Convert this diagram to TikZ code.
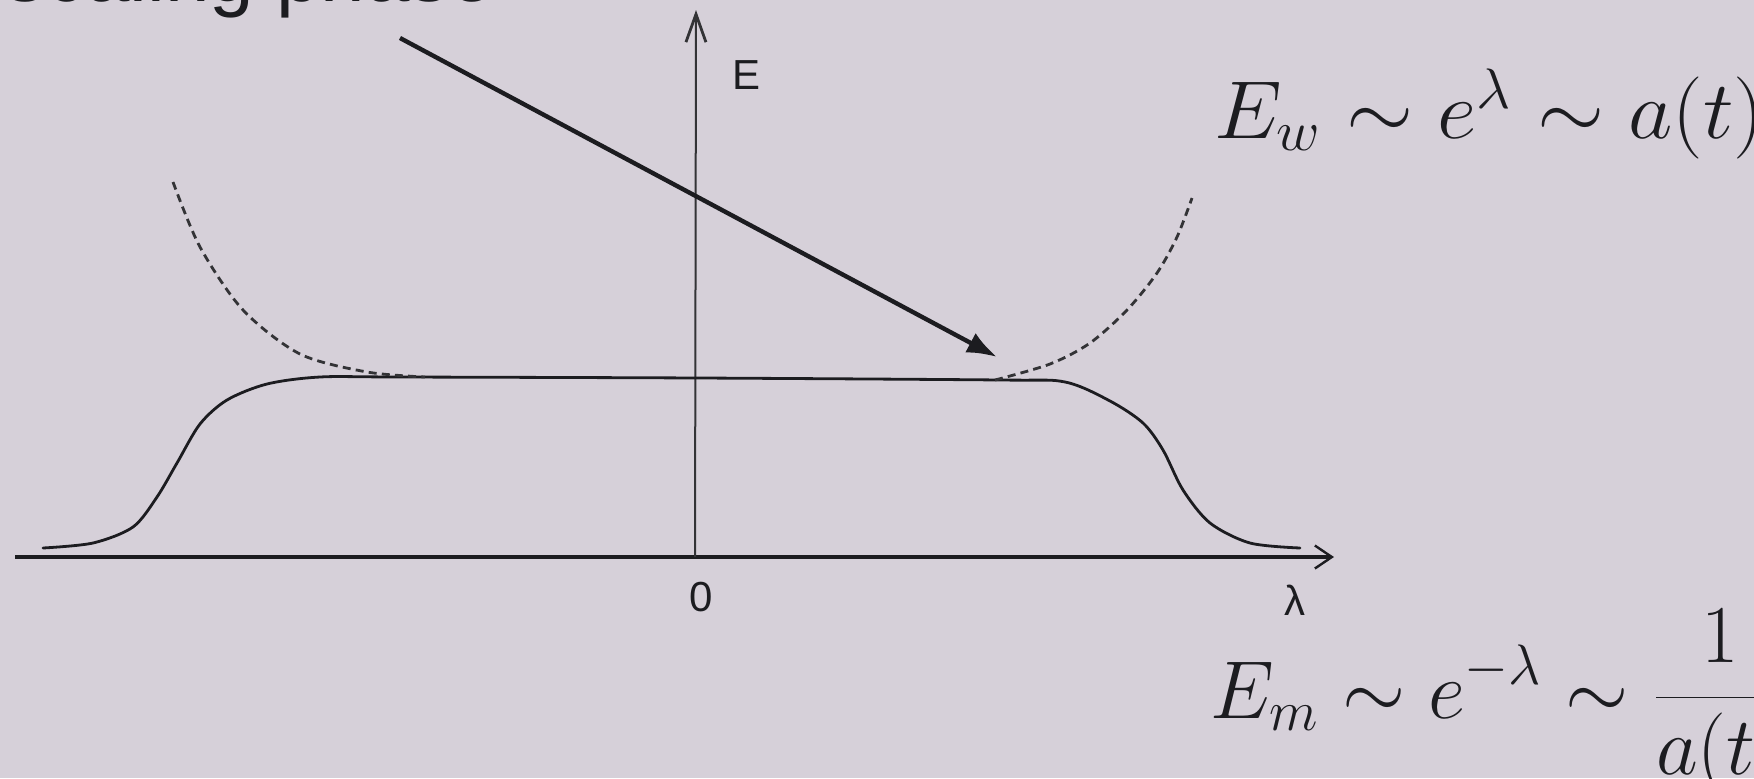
\documentclass[tikz,border=0pt]{standalone}
\usepackage{graphicx}
\usepackage{fontspec}
\newfontfamily\labfont{Liberation Sans}
\usetikzlibrary{arrows.meta}
\definecolor{bg}{RGB}{214,208,217}
\definecolor{ink}{RGB}{28,28,32}
\newcommand{\bigeq}[2]{\scalebox{#1}[1.98]{\huge #2}}
\begin{document}
\begin{tikzpicture}[x=0.5pt,y=-0.5pt,
  eqn/.style={inner sep=0pt, text=ink},
  slidetext/.style={inner sep=0pt, text=ink, font=\labfont\fontsize{40}{48}\selectfont},
  axlabel/.style={inner sep=0pt, text=ink, font=\labfont\fontsize{21}{25}\selectfont},
  haxis/.style={draw=ink, line width=2pt, -{Straight Barb[length=8.5pt,width=11.5pt,line width=1.2pt]}},
  vaxis/.style={draw=ink!90, line width=1pt, -{Straight Barb[length=14pt,width=10pt,line width=1.4pt]}},
  pointer/.style={draw=ink, line width=2.2pt, -{Latex[length=15pt,width=11pt]}},
  curve/.style={draw=ink, line width=1.4pt, line cap=round},
  dashcurve/.style={draw=ink!90, line width=1.4pt, dash pattern=on 4pt off 2.6pt}
]
\useasboundingbox (0,0) rectangle (1754,778);
\fill[bg] (0,0) rectangle (1754,778);
\clip (0,0) rectangle (1754,778);

% slide text (cut at the top)
\node[slidetext, anchor=base east] (phase) at (495,1) {scaling phase};

% axes
\coordinate (O) at (695,557);
\coordinate (xl) at (15,557);
\coordinate (xr) at (1334,557);
\coordinate (yt) at (696,10);
\draw[haxis] (xl) -- (xr);
\draw[vaxis] (O) -- (yt);

\node[axlabel] (elab) at (746,75) {E};
\node[axlabel] (zero) at (701,597) {0};
\node[axlabel] (lam) at (1295,600) {λ};

% solid energy curve
\draw[curve] plot[smooth, tension=0.5] coordinates {
  (43,548) (93,543) (133,527) (157,497) (177,463) (200,424) (227,400)
  (267,384) (320,377) (400,377) (700,378) (1000,380) (1065,382)
  (1110,401) (1143,423) (1163,450) (1183,490) (1210,523) (1250,543) (1300,548)};

% dashed branches
\draw[dashcurve] plot[smooth, tension=0.5] coordinates {
  (173,182) (200,247) (243,310) (300,354) (367,372) (425,377)};
\draw[dashcurve] plot[smooth, tension=0.5] coordinates {
  (995,380) (1050,364) (1090,343) (1127,310) (1157,273) (1177,237) (1192,198)};

% pointer arrow
\coordinate (as) at (400,38);
\coordinate (ae) at (997,357);
\draw[pointer] (as) -- (ae);

% equations
\node[eqn, anchor=base west] (ew) at (1214,138) {\bigeq{2.08}{$E_w \sim e^{\lambda} \sim a(t)$}};
\node[eqn, anchor=base west] (em) at (1210,718) {\bigeq{1.96}{$\displaystyle E_m \sim e^{-\lambda} \sim \frac{1}{a(t)}$}};
\end{tikzpicture}
\end{document}
